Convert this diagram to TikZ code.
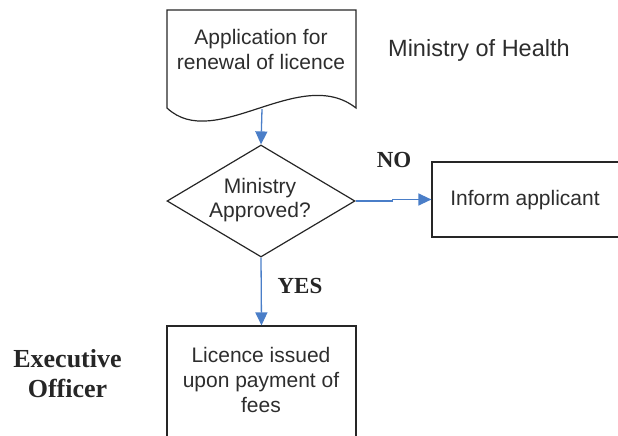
\documentclass[tikz,border=0pt]{standalone}
\usepackage{fontspec}
\setmainfont{Liberation Sans}
\newfontfamily\serifb{Liberation Serif}
\usetikzlibrary{arrows.meta,shapes.geometric}
\definecolor{flowblue}{RGB}{74,126,200}
\definecolor{txt}{RGB}{45,45,45}
\begin{document}
\begin{tikzpicture}[x=1pt,y=-1pt,
  box/.style={draw=black!85, line width=1.2pt},
  lbl/.style={text=txt, font=\fontsize{21}{25}\selectfont, align=center, inner sep=0pt},
  yn/.style={font=\serifb\bfseries\fontsize{23}{26}\selectfont, text=black!85, inner sep=0pt},
  conn/.style={draw=flowblue, line width=1.3pt, -{Triangle[length=13pt,width=12pt]}}]
\useasboundingbox (0,0) rectangle (618,436);
\clip (0,0) rectangle (618,436);
% document shape
\draw[box] (167,108) -- (167,10) -- (356,10) -- (356,108) .. controls (300,64) and (215,153) .. (167,108) -- cycle;
\node[lbl] (doctext) at (261,49.5) {Application for\\renewal of licence};
\coordinate (docb) at (262,109);
% decision
\node[diamond, box, minimum width=188pt, minimum height=112pt, inner sep=0pt] (dia) at (261,201) {};
\node[lbl, font=\fontsize{21}{24}\selectfont] (diatext) at (260,199.7) {Ministry\\Approved?};
% inform applicant
\node[box, minimum width=198pt, minimum height=75pt, inner sep=0pt] (inform) at (531,199.5) {};
\node[lbl] (informtext) at (525,199.6) {Inform applicant};
% licence issued
\node[box, minimum width=189pt, minimum height=134pt, inner sep=0pt] (lic) at (261.5,393) {};
\node[lbl] (lictext) at (261,380.3) {Licence issued\\upon payment of\\fees};
% connectors
\draw[conn] (docb) -- (dia.north);
\draw[conn] (dia.east) -- ++(37,0) |- (inform.west);
\draw[conn] (dia.south) -- (lic.north);
% labels
\node[yn, anchor=base] (no) at (394,167.7) {NO};
\node[yn, anchor=base] (yes) at (300,293) {YES};
\node[text=txt, font=\fontsize{23.5}{28}\selectfont, anchor=base west, inner sep=0pt] (moh) at (388,56.7) {Ministry of Health};
\node[font=\serifb\bfseries\fontsize{26}{30}\selectfont, text=black!85, align=center, inner sep=0pt] (eo) at (67.5,373.7) {Executive\\Officer};
\end{tikzpicture}
\end{document}
